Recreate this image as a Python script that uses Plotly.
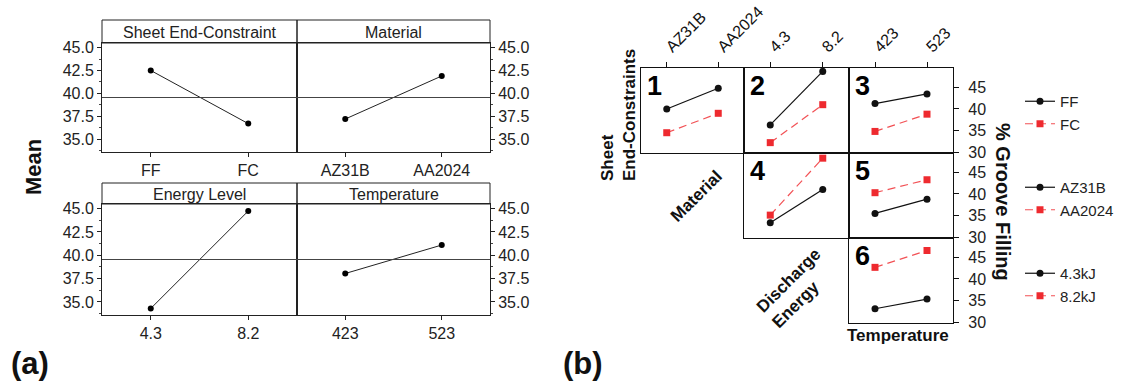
import plotly.graph_objects as go

W, H = 1131, 383
FONT = "Arial, 'Liberation Sans', sans-serif"

# ---------------- Panel (a): main effects ----------------
sheet_levels = ["FF", "FC"]
sheet_means = [42.5, 36.7]
material_levels = ["AZ31B", "AA2024"]
material_means = [37.2, 41.9]
energy_levels = ["4.3", "8.2"]
energy_means = [34.3, 44.75]
temp_levels = ["423", "523"]
temp_means = [38.05, 41.1]
grand_mean = 39.55
mean_ticks = [35.0, 37.5, 40.0, 42.5, 45.0]
panel_a_titles = ["Sheet End-Constraint", "Material", "Energy Level", "Temperature"]

# ---------------- Panel (b): interactions ----------------
sheet_names = ["FF", "FC"]
material_names = ["AZ31B", "AA2024"]
energy_names = ["4.3kJ", "8.2kJ"]
# cell 1: sheet x material
c1_FF = [40.0, 44.8]
c1_FC = [34.5, 39.0]
# cell 2: sheet x energy
c2_FF = [36.3, 48.7]
c2_FC = [32.2, 41.0]
# cell 3: sheet x temperature
c3_FF = [41.25, 43.5]
c3_FC = [34.8, 38.8]
# cell 4: material x energy
c4_AZ = [33.35, 41.05]
c4_AA = [35.1, 48.3]
# cell 5: material x temperature
c5_AZ = [35.5, 38.8]
c5_AA = [40.3, 43.3]
# cell 6: energy x temperature
c6_43 = [33.1, 35.35]
c6_82 = [42.7, 46.6]
filling_ticks = [30, 35, 40, 45]


def fx(px):
    return px / W


def fy(py):
    return 1 - py / H


def note(text, x, y, size, angle=0, align="center", xanchor="center", yanchor="middle", color="#111"):
    return dict(text=text, xref="paper", yref="paper", x=fx(x), y=fy(y),
                xanchor=xanchor, yanchor=yanchor, textangle=angle, align=align,
                showarrow=False, font=dict(size=size, color=color, family=FONT))


fig = go.Figure()
layout = {}

# ---------- panel (a) axes ----------
a_cols = [(102, 297), (297, 490)]
a_rows = [(43, 152), (204, 315)]
a_strips = [(20, 43), (183, 204)]
a_data = [(sheet_levels, sheet_means), (material_levels, material_means),
          (energy_levels, energy_means), (temp_levels, temp_means)]

shapes = []
annotations = []

for i in range(4):
    r, c = divmod(i, 2)
    n = i + 1
    xs = "" if n == 1 else str(n)
    xk, yk = "xaxis" + xs, "yaxis" + xs
    layout[xk] = dict(domain=[fx(a_cols[c][0]), fx(a_cols[c][1])], anchor="y" + xs,
                      type="category", range=[-0.5, 1.5], showline=True, mirror=True,
                      linecolor="#222", linewidth=1, ticks="outside", ticklen=4,
                      tickcolor="#222", tickfont=dict(size=16, color="#222", family=FONT),
                      showgrid=False, zeroline=False, automargin=False)
    layout[yk] = dict(domain=[fy(a_rows[r][1]), fy(a_rows[r][0])], anchor="x" + xs,
                      range=[33.6, 45.5], tickvals=mean_ticks, tickformat=".1f",
                      side="left" if c == 0 else "right",
                      showline=True, mirror=True, linecolor="#222", linewidth=1,
                      ticks="outside", ticklen=4, tickcolor="#222",
                      minor=dict(dtick=1.25, tick0=0, ticks="outside", ticklen=2, tickcolor="#444"),
                      tickfont=dict(size=16, color="#222", family=FONT),
                      showgrid=False, zeroline=False, automargin=False)
    lv, mv = a_data[i]
    fig.add_trace(go.Scatter(x=lv, y=mv, xaxis="x" + xs, yaxis="y" + xs,
                             mode="lines+markers", showlegend=False,
                             line=dict(color="#222", width=1),
                             marker=dict(color="#000", size=6)))
    shapes.append(dict(type="line", xref="x%s domain" % xs, yref="y" + xs,
                       x0=0, x1=1, y0=grand_mean, y1=grand_mean,
                       line=dict(color="#444", width=1)))
    shapes.append(dict(type="rect", xref="paper", yref="paper",
                       x0=fx(a_cols[c][0]), x1=fx(a_cols[c][1]),
                       y0=fy(a_strips[r][1]), y1=fy(a_strips[r][0]),
                       line=dict(color="#222", width=1)))
    annotations.append(note(panel_a_titles[i], sum(a_cols[c]) / 2, sum(a_strips[r]) / 2 + 1,
                            16, color="#222"))

annotations.append(note("<b>Mean</b>", 33, 167, 22, angle=-90))
annotations.append(note("<b>(a)</b>", 30, 363, 31))
annotations.append(note("<b>(b)</b>", 583, 363, 31))

# ---------- panel (b) axes ----------
b_cols = [(641, 744), (744, 849), (849, 953)]
b_rows = [(68, 153), (153, 238), (238, 323)]
cells = [(0, 0), (1, 0), (2, 0), (1, 1), (2, 1), (2, 2)]
cell_x = [material_names, ["4.3", "8.2"], ["423", "523"],
          ["4.3", "8.2"], ["423", "523"], ["423", "523"]]
cell_series = [
    (c1_FF, c1_FC, sheet_names, "legend"),
    (c2_FF, c2_FC, sheet_names, "legend"),
    (c3_FF, c3_FC, sheet_names, "legend"),
    (c4_AZ, c4_AA, material_names, "legend2"),
    (c5_AZ, c5_AA, material_names, "legend2"),
    (c6_43, c6_82, energy_names, "legend3"),
]
cell_labels = ["1", "2", "3", "4", "5", "6"]
shown = set()
BLACK = "#111"
RED = "#EE2A2F"

for k, (c, r) in enumerate(cells):
    n = 5 + k
    xs = str(n)
    top = r == 0
    right = c == 2
    layout["xaxis" + xs] = dict(domain=[fx(b_cols[c][0]), fx(b_cols[c][1])], anchor="y" + xs,
                                type="category", range=[-0.5, 1.5], side="top",
                                showline=True, mirror=True, linecolor="#111", linewidth=1.2,
                                ticks="outside" if top else "", ticklen=5, tickcolor="#111",
                                showticklabels=top, tickangle=-45,
                                tickfont=dict(size=16, color="#111", family=FONT),
                                showgrid=False, zeroline=False, automargin=False)
    layout["yaxis" + xs] = dict(domain=[fy(b_rows[r][1]), fy(b_rows[r][0])], anchor="x" + xs,
                                range=[29.8, 49.5], side="right", tickvals=filling_ticks,
                                showline=True, mirror=True, linecolor="#111", linewidth=1.2,
                                ticks="outside" if right else "", ticklen=5, tickcolor="#111",
                                showticklabels=right, ticklabelstandoff=6,
                                tickfont=dict(size=16, color="#222", family=FONT),
                                showgrid=False, zeroline=False, automargin=False)
    s1, s2, names, leg = cell_series[k]
    for j, (vals, col, dash, sym, size) in enumerate(
            [(s1, BLACK, "solid", "circle", 7), (s2, RED, "8px,5px", "square", 7)]):
        nm = names[j]
        show = (leg, nm) not in shown
        shown.add((leg, nm))
        fig.add_trace(go.Scatter(
            x=cell_x[k], y=vals, xaxis="x" + xs, yaxis="y" + xs, mode="lines+markers",
            name=nm, legend=leg, showlegend=show, legendgroup=leg + nm,
            line=dict(color=col if j == 0 else "rgba(240,50,55,0.85)", width=1.2, dash=dash),
            marker=dict(color=col, size=size, symbol=sym)))
    annotations.append(note("<b>%s</b>" % cell_labels[k], b_cols[c][0] + 4, b_rows[r][0] + 1,
                            27, xanchor="left", yanchor="top", color="#000"))

annotations += [
    note("<b>Sheet<br>End-Constraints</b>", 618, 115, 17, angle=-90, align="left"),
    note("<b>Material</b>", 696, 196, 17, angle=-45),
    note("<b>Discharge<br>Energy</b>", 796, 288, 17, angle=-45, align="left"),
    note("<b>Temperature</b>", 898, 335, 17),
    note("<b>% Groove Filling</b>", 1003, 202, 20, angle=90),
]

leg_common = dict(xanchor="left", yanchor="top", bgcolor="rgba(0,0,0,0)", borderwidth=0,
                  font=dict(size=15, color="#222", family=FONT), tracegroupgap=0)
layout["legend"] = dict(x=fx(1020), y=fy(85), **leg_common)
layout["legend2"] = dict(x=fx(1020), y=fy(171), **leg_common)
layout["legend3"] = dict(x=fx(1020), y=fy(257), **leg_common)

fig.update_layout(**layout)
fig.update_layout(width=W, height=H, margin=dict(l=0, r=0, t=0, b=0, autoexpand=False),
                  paper_bgcolor="white", plot_bgcolor="white",
                  shapes=shapes, annotations=annotations,
                  font=dict(family=FONT))
fig.write_html("out.html")
